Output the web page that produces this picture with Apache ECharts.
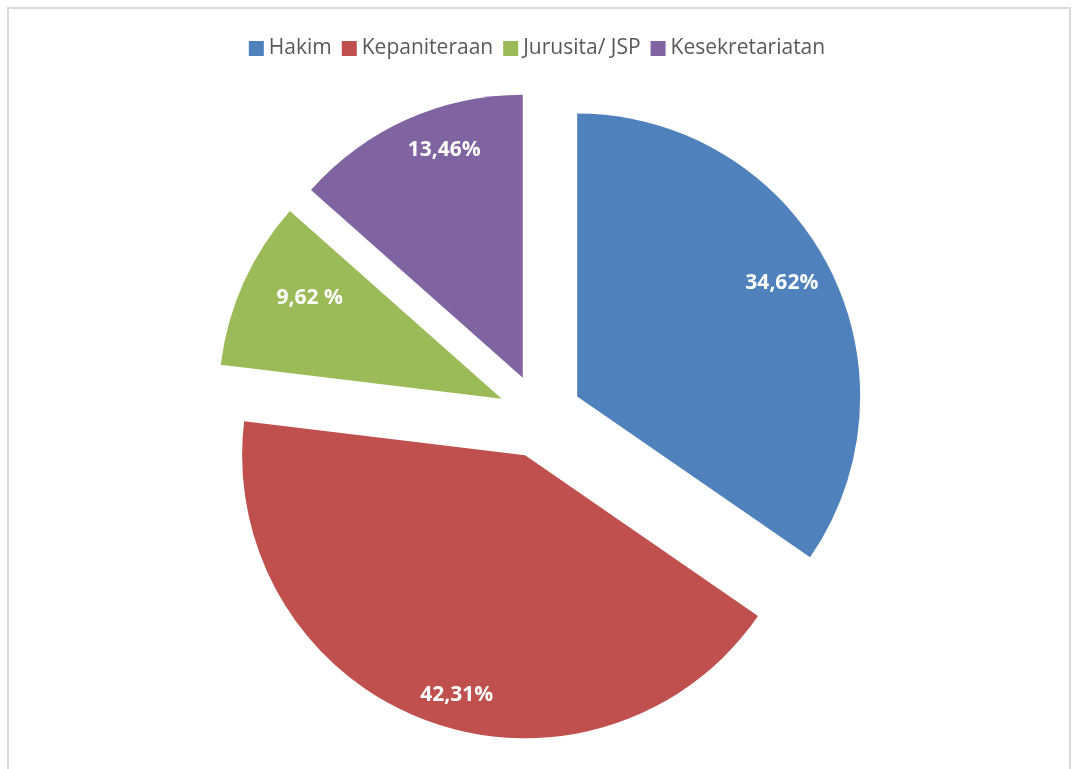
<!DOCTYPE html>
<html>
<head>
<meta charset="utf-8">
<script src="https://cdn.jsdelivr.net/npm/echarts@6/dist/echarts.min.js"></script>
<style>
html,body{margin:0;padding:0;background:#fff;overflow:hidden;}
#frame{position:absolute;left:7px;top:7px;width:1064px;height:800px;border:2px solid #d9d9d9;box-sizing:border-box;}
#chart{position:absolute;left:0;top:0;width:1074px;height:769px;}
</style>
</head>
<body>
<div id="frame"></div>
<div id="chart"></div>
<script>
const categories = ['Hakim', 'Kepaniteraan', 'Jurusita/ JSP', 'Kesekretariatan'];
const values = [34.62, 42.31, 9.62, 13.46];
const valueLabels = ['34,62%', '42,31%', '9,62 %', '13,46%'];
const colors = ['#4F81BD', '#C0504D', '#9BBB59', '#8064A2'];

const R = 283;
const labelFrac = 0.83;
const offset = 42;
// small label nudges (style) to match the reference placement
const labelNudge = [[-6, -3], [16, 17], [25, -3], [19, -11]];

const pieData = categories.map((c, i) => ({
  name: c, value: values[i], selected: true,
  itemStyle: { color: colors[i] }
}));
const labelData = categories.map((c, i) => ({
  name: c, value: values[i], selected: true,
  itemStyle: { color: 'rgba(0,0,0,0)' }
}));

const chart = echarts.init(document.getElementById('chart'), null, { renderer: 'canvas' });
chart.setOption({
  animation: false,
  backgroundColor: 'transparent',
  color: colors,
  legend: {
    top: 33,
    left: 'center',
    icon: 'rect',
    itemWidth: 15,
    itemHeight: 15,
    itemGap: 10,
    selectedMode: false,
    textStyle: { color: '#595959', fontSize: 21, fontFamily: 'Open Sans' },
    data: categories
  },
  series: [
    {
      type: 'pie',
      center: [540, 416],
      radius: [0, R],
      startAngle: 90,
      clockwise: true,
      selectedMode: 'multiple',
      selectedOffset: offset,
      silent: true,
      label: { show: false },
      labelLine: { show: false },
      emphasis: { disabled: true },
      data: pieData
    },
    {
      type: 'pie',
      center: [540, 416],
      radius: [0, R * labelFrac * 2],
      startAngle: 90,
      clockwise: true,
      selectedMode: 'multiple',
      selectedOffset: offset,
      silent: true,
      legendHoverLink: false,
      label: {
        show: true,
        position: 'inside',
        color: '#fff',
        fontSize: 21,
        fontWeight: 'bold',
        fontFamily: 'Open Sans',
        formatter: p => valueLabels[p.dataIndex]
      },
      labelLayout: p => ({ dx: labelNudge[p.dataIndex][0], dy: labelNudge[p.dataIndex][1] }),
      labelLine: { show: false },
      emphasis: { disabled: true },
      data: labelData
    }
  ]
});
</script>
</body>
</html>
